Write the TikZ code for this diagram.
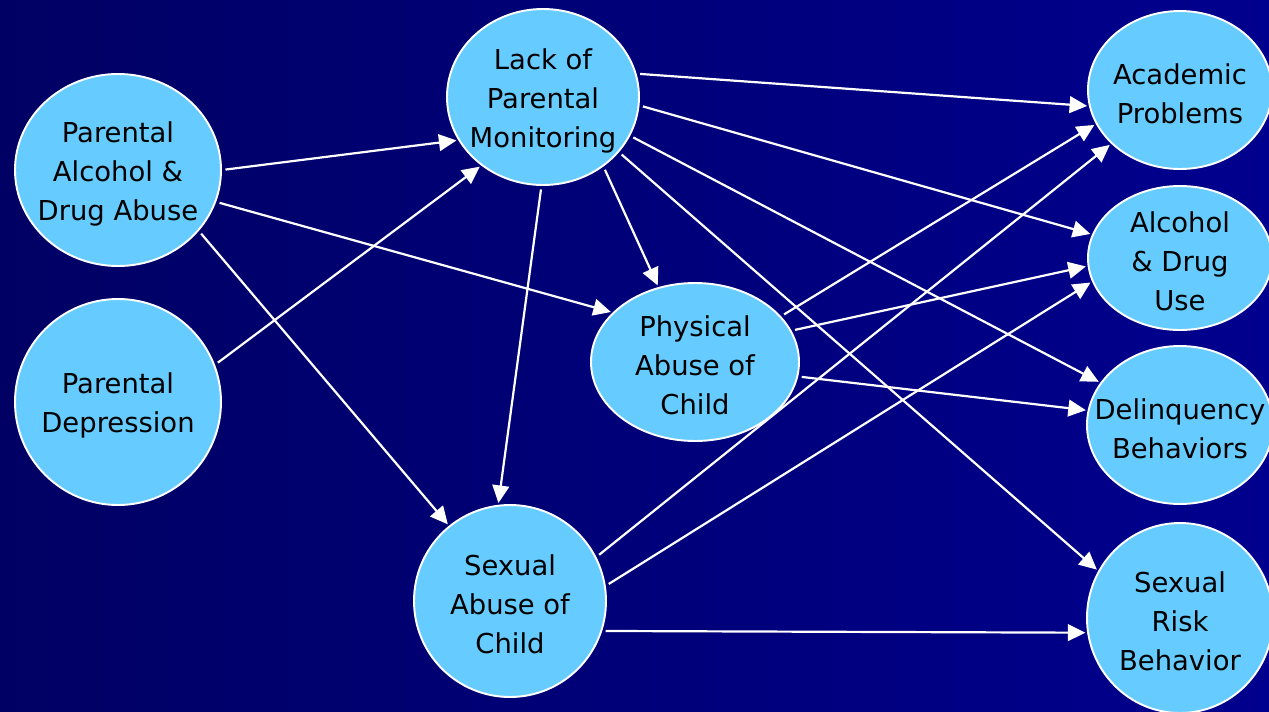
\documentclass[tikz,border=0pt]{standalone}
\usepackage{fontspec}
\setmainfont{DejaVu Sans}
\usetikzlibrary{arrows.meta,shapes.geometric}
\definecolor{bgleft}{RGB}{0,0,100}
\definecolor{bgright}{RGB}{0,0,142}
\definecolor{ovalfill}{RGB}{102,204,255}
\tikzset{
  oval/.style n args={3}{ellipse,draw=white,line width=1.1pt,fill=ovalfill,
    minimum width=#1*0.02cm,minimum height=#2*0.02cm,inner sep=0pt,
    label={[align=center,yshift=-2pt,font=\fontsize{15.6pt}{22.2pt}\selectfont]center:#3}},
  path/.style={draw=white,line width=1.25pt,-{Triangle[length=10pt,width=9.5pt]},
    shorten <=2pt,shorten >=1pt}
}
\begin{document}
\begin{tikzpicture}[x=0.02cm,y=-0.02cm]
  \useasboundingbox (0,0) rectangle (1269,711);
  \shade[left color=bgleft,right color=bgright] (0,0) rectangle (1269,711);

  % causes
  \node[oval={206}{192}{Parental\\Alcohol \&\\Drug Abuse}] (pada) at (118,170) {};
  \node[oval={206}{206}{Parental\\Depression}] (pdep) at (118,402) {};
  % mediators
  \node[oval={192}{176}{Lack of\\Parental\\Monitoring}] (lpm) at (543,97) {};
  \node[oval={208}{158}{Physical\\Abuse of\\Child}] (phys) at (695,362) {};
  \node[oval={192}{192}{Sexual\\Abuse of\\Child}] (sexab) at (510,601) {};
  % outcomes
  \node[oval={184}{158}{Academic\\Problems}] (acad) at (1180,90) {};
  \node[oval={184}{144}{Alcohol\\\& Drug\\Use}] (alc) at (1180,258) {};
  \node[oval={186}{158}{Delinquency\\Behaviors}] (delq) at (1180,425) {};
  \node[oval={186}{190}{Sexual\\Risk\\Behavior}] (srisk) at (1180,618) {};

  \draw[path] (pada.0) -- (lpm.207);
  \draw[path] (pada.342) -- (phys.149);
  \draw[path] (pada.323) -- (sexab.129);
  \draw[path] (pdep.21) -- (lpm.228);

  \draw[path] (lpm.14) -- (acad.190);
  \draw[path] (lpm.355) -- (alc.165);
  \draw[path] (lpm.336) -- (delq.152);
  \draw[path] (lpm.324) -- (srisk.150);
  \draw[path] (lpm.311) -- (phys.116);
  \draw[path] (lpm.269) -- (sexab.97);

  \draw[path] (phys.28) -- (acad.202);
  \draw[path] (phys.18) -- (alc.185);
  \draw[path] (phys.352) -- (delq.171);

  \draw[path] (sexab.27) -- (acad.218);
  \draw[path] (sexab.9) -- (alc.195);
  \draw[path] (sexab.342) -- (srisk.189);
\end{tikzpicture}
\end{document}
